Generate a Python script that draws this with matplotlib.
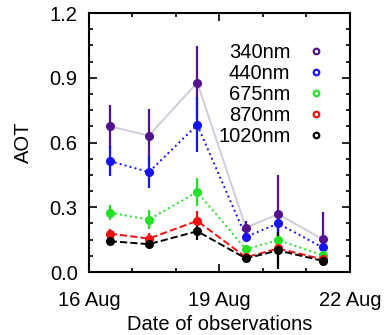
import matplotlib
matplotlib.use("Agg")
import matplotlib.pyplot as plt
from matplotlib.lines import Line2D
from matplotlib.ticker import MultipleLocator

# observation days (day of August)
days = [16.48, 17.38, 18.49, 19.61, 20.35, 21.37]

labels = ["340nm", "440nm", "675nm", "870nm", "1020nm"]
colors = ["#55108F", "#1414F5", "#22E022", "#F01010", "#000000"]
line_colors = ["#CFCCDA", "#1414F5", "#22E022", "#F01010", "#000000"]
line_styles = ["-", ":", ":", "--", "--"]

aot_340 = [0.675, 0.632, 0.878, 0.206, 0.268, 0.152]
aot_440 = [0.514, 0.463, 0.682, 0.163, 0.225, 0.114]
aot_675 = [0.275, 0.243, 0.371, 0.105, 0.148, 0.078]
aot_870 = [0.178, 0.155, 0.237, 0.068, 0.109, 0.059]
aot_1020 = [0.143, 0.129, 0.189, 0.063, 0.100, 0.052]

err_340 = [0.10, 0.125, 0.17, 0.03, 0.18, 0.125]
err_440 = [0.07, 0.075, 0.127, 0.02, 0.04, 0.02]
err_675 = [0.035, 0.045, 0.066, 0.015, 0.03, 0.015]
err_870 = [0.02, 0.025, 0.045, 0.01, 0.02, 0.01]
err_1020 = [0.015, 0.02, 0.04, 0.01, 0.085, 0.02]

series = [aot_340, aot_440, aot_675, aot_870, aot_1020]
errors = [err_340, err_440, err_675, err_870, err_1020]

xticks = [16, 19, 22]
xticklabels = ["16 Aug", "19 Aug", "22 Aug"]
yticks = [0.0, 0.3, 0.6, 0.9, 1.2]

plt.rcParams['font.family'] = ['Liberation Sans', 'DejaVu Sans']
FS = 14.5

fig = plt.figure(figsize=(3.88, 3.35), dpi=100)
ax = fig.add_axes([0.229, 0.188, 0.673, 0.773])

for vals, errs, c, lc, ls in zip(series, errors, colors, line_colors, line_styles):
    ax.plot(days, vals, color=lc, linestyle=ls, linewidth=1.4, zorder=1)
    ax.errorbar(days, vals, yerr=errs, fmt='o', color=c, markersize=5.5,
                elinewidth=1.6, capsize=0, zorder=2)

ax.set_xlim(16, 22)
ax.set_ylim(0, 1.2)
ax.set_xticks(xticks)
ax.set_xticklabels(xticklabels)
ax.set_yticks(yticks)
ax.set_yticklabels(["%.1f" % v for v in yticks])
ax.xaxis.set_minor_locator(MultipleLocator(1))
ax.yaxis.set_minor_locator(MultipleLocator(0.075))
ax.tick_params(which='both', direction='in', top=True, right=True,
               labelsize=FS, width=1.2)
ax.tick_params(which='major', length=6)
ax.tick_params(which='minor', length=3)
ax.tick_params(axis='x', pad=14)
ax.tick_params(axis='y', pad=8)
for s in ax.spines.values():
    s.set_linewidth(1.5)

ax.set_ylabel("AOT", fontsize=FS, labelpad=12)
ax.set_xlabel("Date of observations", fontsize=FS, labelpad=3)

handles = [Line2D([], [], linestyle='none', marker='o', markersize=4,
                  markerfacecolor='none', markeredgecolor=c, markeredgewidth=1.6)
           for c in colors]
ax.legend(handles, labels, loc='upper right', bbox_to_anchor=(0.93, 0.925),
          markerfirst=False, frameon=False, fontsize=FS, handlelength=0.6,
          handletextpad=0.95, labelspacing=0.1, borderpad=0)

fig.savefig("out.png", dpi=100)
